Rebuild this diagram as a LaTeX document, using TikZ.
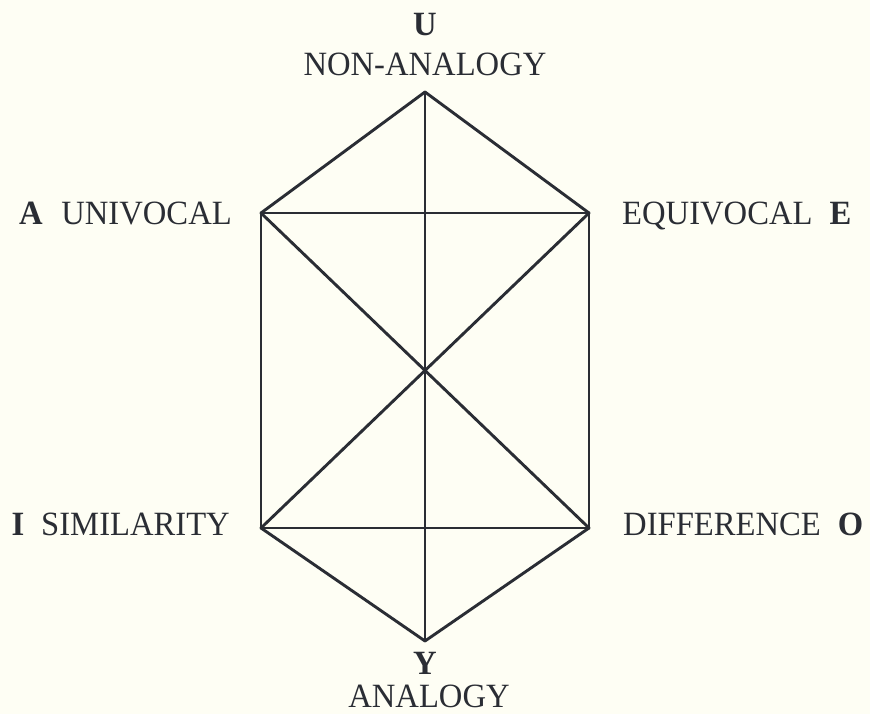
\documentclass[tikz,border=0pt]{standalone}
\usepackage{fontspec}
\setmainfont[FakeStretch=0.96]{Liberation Serif}
\definecolor{bg}{HTML}{FEFEF4}
\definecolor{ink}{HTML}{2A2D34}
\begin{document}
\begin{tikzpicture}[x=1pt,y=-1pt,
  edge/.style={draw=ink,line width=2.9pt,line cap=round,line join=miter},
  lbl/.style={inner sep=0pt,text=ink,font=\fontsize{34}{40}\selectfont}]
\fill[bg] (0,0) rectangle (870,714);
\useasboundingbox (0,0) rectangle (870,714);
\coordinate (U) at (425,92);
\coordinate (A) at (261,213);
\coordinate (E) at (589,213);
\coordinate (I) at (261,528);
\coordinate (O) at (589,528);
\coordinate (Y) at (425,641);
\draw[edge] (U) -- (A);
\draw[edge] (U) -- (E);
\draw[edge] (A) -- (E);
\draw[edge] (A) -- (I);
\draw[edge] (E) -- (O);
\draw[edge] (I) -- (O);
\draw[edge] (A) -- (O);
\draw[edge] (E) -- (I);
\draw[edge] (I) -- (Y);
\draw[edge] (O) -- (Y);
\draw[edge] (U) -- (Y);
\node[lbl,anchor=base] (uL) at (425,36) {\textbf{U}};
\node[lbl,anchor=base] (uT) at (425,76) {NON-ANALOGY};
\node[lbl,anchor=base east] (aT) at (232,225) {\textbf{A}\hspace{0.55em}UNIVOCAL};
\node[lbl,anchor=base west] (eT) at (622,225) {EQUIVOCAL\hspace{0.5em}\textbf{E}};
\node[lbl,anchor=base east] (iT) at (230,535) {\textbf{I}\hspace{0.5em}SIMILARITY};
\node[lbl,anchor=base west] (oT) at (623,535) {DIFFERENCE\hspace{0.5em}\textbf{O}};
\node[lbl,anchor=base] (yL) at (425,674) {\textbf{Y}};
\node[lbl,anchor=base] (yT) at (429,707) {ANALOGY};
\end{tikzpicture}
\end{document}
